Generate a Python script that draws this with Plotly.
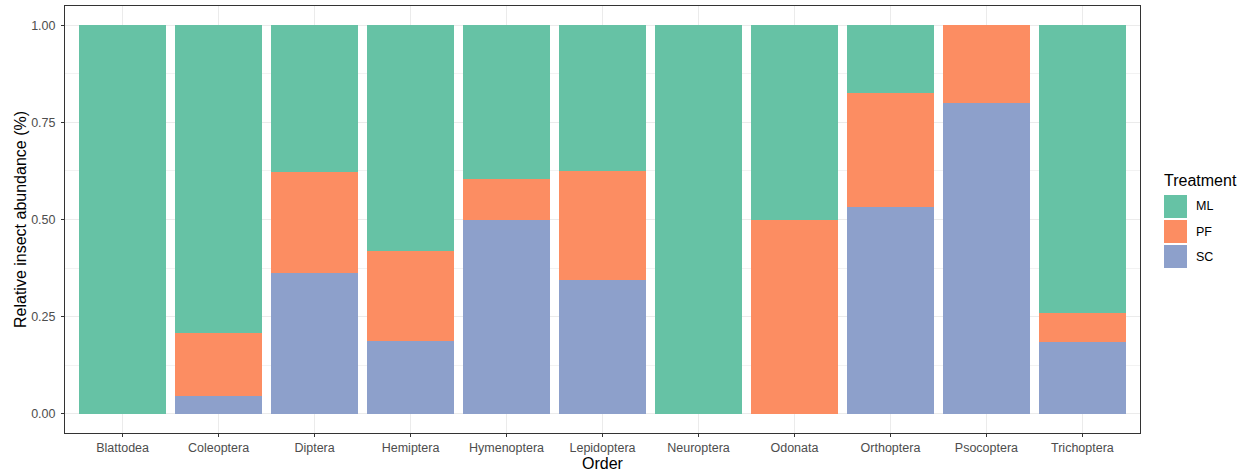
import plotly.graph_objects as go

orders = ["Blattodea", "Coleoptera", "Diptera", "Hemiptera", "Hymenoptera", "Lepidoptera",
          "Neuroptera", "Odonata", "Orthoptera", "Psocoptera", "Trichoptera"]
sc_vals = [0.0, 0.046, 0.363, 0.186, 0.499, 0.344, 0.0, 0.0, 0.531, 0.800, 0.185]
pf_vals = [0.0, 0.162, 0.259, 0.234, 0.105, 0.282, 0.0, 0.500, 0.296, 0.200, 0.073]
ml_vals = [1.0, 0.792, 0.378, 0.580, 0.396, 0.374, 1.0, 0.500, 0.173, 0.0, 0.742]
treatments = ["ML", "PF", "SC"]
colors = {"ML": "#66C2A5", "PF": "#FC8D62", "SC": "#8DA0CB"}
y_ticks = [0.0, 0.25, 0.5, 0.75, 1.0]
y_ticktext = ["0.00", "0.25", "0.50", "0.75", "1.00"]

W, H = 1247, 475
L, R, T, B = 65, 107, 6, 42
pw, ph = W - L - R, H - T - B

fig = go.Figure()
for name, vals in [("SC", sc_vals), ("PF", pf_vals), ("ML", ml_vals)]:
    fig.add_trace(go.Bar(x=orders, y=vals, name=name, width=0.9,
                         marker=dict(color=colors[name], line=dict(width=0)),
                         showlegend=False))

font_fam = "Liberation Sans, Arial, sans-serif"
fig.update_layout(
    width=W, height=H, barmode="stack",
    margin=dict(l=L, r=R, t=T, b=B),
    paper_bgcolor="white", plot_bgcolor="white",
    font=dict(family=font_fam, color="#4D4D4D"),
    xaxis=dict(range=[-0.6, 10.6], showgrid=True, gridcolor="#EBEBEB", gridwidth=1,
               ticks="outside", ticklen=3, tickcolor="#333333", tickwidth=1,
               showline=True, linecolor="#333333", linewidth=1, mirror=True,
               tickfont=dict(size=12.5, color="#4D4D4D"),
               title=dict(text="Order", font=dict(size=16, color="black"), standoff=1),
               zeroline=False),
    yaxis=dict(range=[-0.05, 1.05], tickvals=y_ticks, ticktext=y_ticktext,
               showgrid=True, gridcolor="#EBEBEB", gridwidth=1,
               minor=dict(showgrid=True, gridcolor="#F2F2F2", gridwidth=0.6, dtick=0.125, tick0=0),
               ticks="outside", ticklen=3, tickcolor="#333333", tickwidth=1,
               showline=True, linecolor="#333333", linewidth=1, mirror=True,
               tickfont=dict(size=12.5, color="#4D4D4D"), ticklabelstandoff=3,
               title=dict(text="Relative insect abundance (%)", font=dict(size=16, color="black"), standoff=0),
               zeroline=False),
)

def px_x(px):
    return (px - L) / pw

def px_y(py):
    return (H - B - py) / ph

# custom legend
fig.add_annotation(x=px_x(1162), y=px_y(180), xref="paper", yref="paper", text="Treatment",
                   showarrow=False, xanchor="left", yanchor="middle",
                   font=dict(size=16, color="black", family=font_fam))
key_tops = [195, 220, 245]
for name, top in zip(treatments, key_tops):
    fig.add_shape(type="rect", xref="paper", yref="paper",
                  x0=px_x(1164), x1=px_x(1187), y0=px_y(top), y1=px_y(top + 23),
                  fillcolor=colors[name], line=dict(width=0))
    fig.add_annotation(x=px_x(1194), y=px_y(top + 11.5), xref="paper", yref="paper", text=name,
                       showarrow=False, xanchor="left", yanchor="middle",
                       font=dict(size=12.5, color="black", family=font_fam))

fig.write_html("out.html")
